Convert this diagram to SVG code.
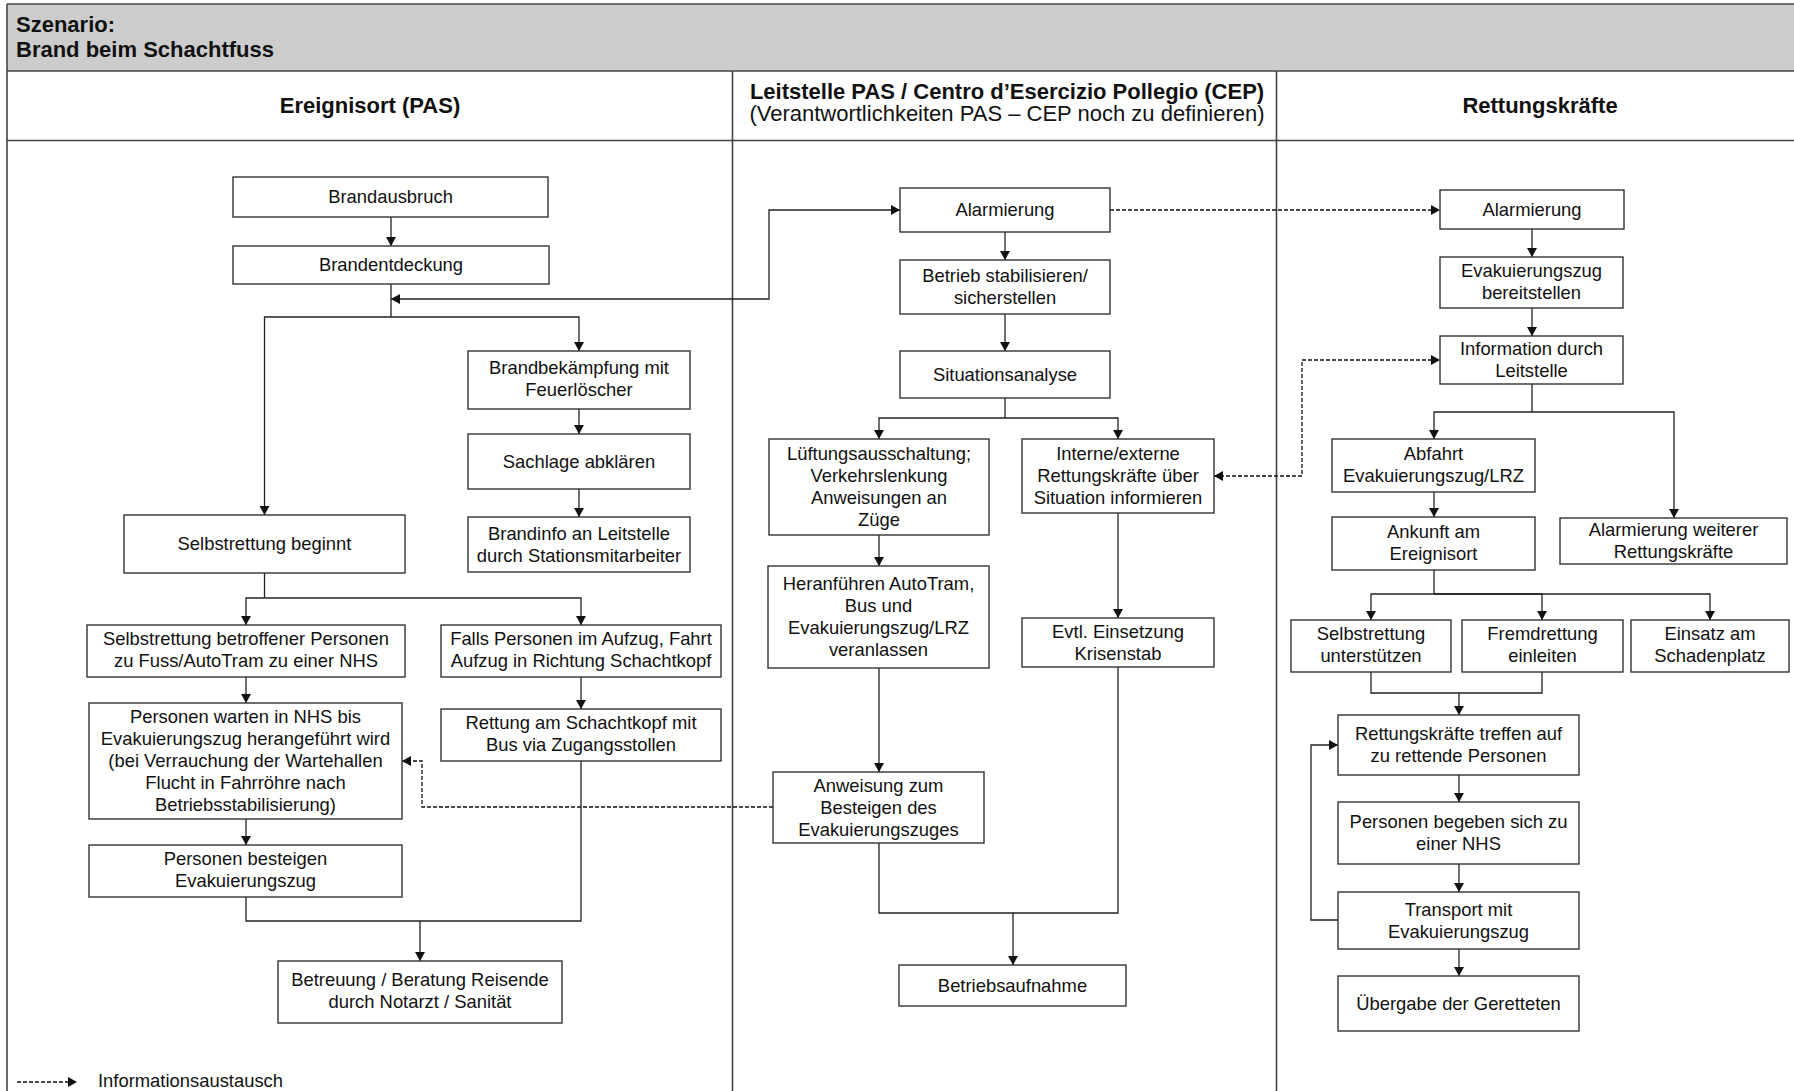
<svg xmlns="http://www.w3.org/2000/svg" width="1794" height="1091" viewBox="0 0 1794 1091">
  <style>
    .frame { fill: none; stroke: #444; stroke-width: 1.6; }
    .band { fill: #cccccc; stroke: none; }
    .box { fill: #ffffff; stroke: #333; stroke-width: 1.4; }
    .t { font-family: "Liberation Sans", Arial, Helvetica, sans-serif; font-size: 18.4px; fill: #111; text-anchor: middle; }
    .hb { font-family: "Liberation Sans", Arial, Helvetica, sans-serif; font-size: 22px; font-weight: bold; fill: #111; }
    .hr { font-family: "Liberation Sans", Arial, Helvetica, sans-serif; font-size: 22px; fill: #111; }
    .c { text-anchor: middle; }
    .ln { fill: none; stroke: #222; stroke-width: 1.3; }
    .arr { marker-end: url(#ah); }
    .dash { stroke-dasharray: 4 2; stroke: #111; }
    .both { marker-start: url(#ah); marker-end: url(#ah); }
  </style>
  <defs>
    <marker id="ah" viewBox="0 0 9 10" refX="9" refY="5" markerWidth="9" markerHeight="10" markerUnits="userSpaceOnUse" orient="auto-start-reverse">
      <path d="M0,0 L9,5 L0,10 z" fill="#111"/>
    </marker>
  </defs>

  <!-- page frame, title band and swimlanes -->
  <g id="frame">
    <rect class="band" x="7" y="4" width="1800" height="67"/>
    <path class="frame" d="M7,4 H1800 M7,4 V1091 M7,71 H1800 M7,140.5 H1800 M732.5,71 V1091 M1276.5,71 V1091"/>
    <text class="hb" x="16" y="31.5">Szenario:</text>
    <text class="hb" x="16" y="57">Brand beim Schachtfuss</text>
    <text class="hb c" x="370" y="113">Ereignisort (PAS)</text>
    <text class="hb c" x="1007" y="99">Leitstelle PAS / Centro d’Esercizio Pollegio (CEP)</text>
    <text class="hr c" x="1007" y="121">(Verantwortlichkeiten PAS – CEP noch zu definieren)</text>
    <text class="hb c" x="1540" y="113">Rettungskräfte</text>
  </g>

  <!-- connectors -->
  <g id="connectors">
    <!-- Ereignisort -->
    <path class="ln arr" d="M391,217 V246"/>
    <path class="ln" d="M391,284 V317"/>
    <path class="ln arr" d="M391,317 H264.5 V515"/>
    <path class="ln arr" d="M391,317 H579 V351"/>
    <path class="ln both" d="M391,299 H769 V210 H900"/>
    <path class="ln arr" d="M579,409 V434"/>
    <path class="ln arr" d="M579,489 V517"/>
    <path class="ln" d="M264.5,573 V598"/>
    <path class="ln arr" d="M264.5,598 H246 V625"/>
    <path class="ln arr" d="M264.5,598 H581 V625"/>
    <path class="ln arr" d="M246,677 V703"/>
    <path class="ln arr" d="M581,677 V709"/>
    <path class="ln arr" d="M246,819 V845"/>
    <path class="ln" d="M246,897 V921 H581 V761"/>
    <path class="ln arr" d="M420,921 V961"/>
    <!-- Leitstelle -->
    <path class="ln arr" d="M1005,232 V260"/>
    <path class="ln arr" d="M1005,314 V351"/>
    <path class="ln" d="M1005,398 V418"/>
    <path class="ln arr" d="M1005,418 H879 V439"/>
    <path class="ln arr" d="M1005,418 H1118 V439"/>
    <path class="ln arr" d="M879,535 V566"/>
    <path class="ln arr" d="M1118,513 V618"/>
    <path class="ln arr" d="M879,668 V772"/>
    <path class="ln" d="M879,843 V913 H1118 V667"/>
    <path class="ln arr" d="M1013,913 V965"/>
    <!-- information exchange (dashed) -->
    <path class="ln dash arr" d="M1110,210 H1440"/>
    <path class="ln dash both" d="M1214,476 H1302 V360 H1440"/>
    <path class="ln dash arr" d="M773,807 H422 V761 H402"/>
    <!-- Rettungskräfte -->
    <path class="ln arr" d="M1532,229 V257"/>
    <path class="ln arr" d="M1532,308 V336"/>
    <path class="ln" d="M1532,384 V412"/>
    <path class="ln arr" d="M1532,412 H1434 V439"/>
    <path class="ln arr" d="M1532,412 H1674 V518"/>
    <path class="ln arr" d="M1434,492 V517"/>
    <path class="ln" d="M1434,570 V594"/>
    <path class="ln arr" d="M1434,594 H1371 V620"/>
    <path class="ln arr" d="M1434,594 H1542 V620"/>
    <path class="ln arr" d="M1434,594 H1710 V620"/>
    <path class="ln" d="M1371,672 V693 H1542 V672"/>
    <path class="ln arr" d="M1459,693 V715"/>
    <path class="ln arr" d="M1459,775 V802"/>
    <path class="ln arr" d="M1459,864 V892"/>
    <path class="ln arr" d="M1459,949 V976"/>
    <path class="ln arr" d="M1338,920 H1311 V745 H1338"/>
    <!-- legend -->
    <path class="ln dash arr" d="M17,1082 H77"/>
  </g>
  <text class="t" x="98" y="1087" style="text-anchor:start">Informationsaustausch</text>

  <!-- Ereignisort (PAS) -->
  <g id="n_brandausbruch"><rect class="box" x="233" y="177" width="315" height="40"/><text class="t" x="390.5" y="203.4">Brandausbruch</text></g>
  <g id="n_brandentdeckung"><rect class="box" x="233" y="246" width="316" height="38"/><text class="t" x="391" y="271.4">Brandentdeckung</text></g>
  <g id="n_brandbekaempfung"><rect class="box" x="468" y="351" width="222" height="58"/><text class="t" x="579" y="374.4">Brandbekämpfung mit</text><text class="t" x="579" y="396.4">Feuerlöscher</text></g>
  <g id="n_sachlage"><rect class="box" x="468" y="434" width="222" height="55"/><text class="t" x="579" y="467.9">Sachlage abklären</text></g>
  <g id="n_brandinfo"><rect class="box" x="468" y="517" width="222" height="55"/><text class="t" x="579" y="539.9">Brandinfo an Leitstelle</text><text class="t" x="579" y="561.9">durch Stationsmitarbeiter</text></g>
  <g id="n_selbstrettung"><rect class="box" x="124" y="515" width="281" height="58"/><text class="t" x="264.5" y="550.4">Selbstrettung beginnt</text></g>
  <g id="n_selbstrettung_personen"><rect class="box" x="87" y="625" width="318" height="52"/><text class="t" x="246" y="645.4">Selbstrettung betroffener Personen</text><text class="t" x="246" y="667.4">zu Fuss/AutoTram zu einer NHS</text></g>
  <g id="n_aufzug"><rect class="box" x="441" y="625" width="280" height="52"/><text class="t" x="581" y="645.4">Falls Personen im Aufzug, Fahrt</text><text class="t" x="581" y="667.4">Aufzug in Richtung Schachtkopf</text></g>
  <g id="n_warten"><rect class="box" x="89" y="703" width="313" height="116"/>
    <text class="t" x="245.5" y="723.4">Personen warten in NHS bis</text>
    <text class="t" x="245.5" y="745.4">Evakuierungszug herangeführt wird</text>
    <text class="t" x="245.5" y="767.4">(bei Verrauchung der Wartehallen</text>
    <text class="t" x="245.5" y="789.4">Flucht in Fahrröhre nach</text>
    <text class="t" x="245.5" y="811.4">Betriebsstabilisierung)</text></g>
  <g id="n_schachtkopf"><rect class="box" x="441" y="709" width="280" height="52"/><text class="t" x="581" y="729.4">Rettung am Schachtkopf mit</text><text class="t" x="581" y="751.4">Bus via Zugangsstollen</text></g>
  <g id="n_besteigen"><rect class="box" x="89" y="845" width="313" height="52"/><text class="t" x="245.5" y="865.4">Personen besteigen</text><text class="t" x="245.5" y="887.4">Evakuierungszug</text></g>
  <g id="n_betreuung"><rect class="box" x="278" y="961" width="284" height="62"/><text class="t" x="420" y="986.4">Betreuung / Beratung Reisende</text><text class="t" x="420" y="1008.4">durch Notarzt / Sanität</text></g>

  <!-- Leitstelle PAS / CEP -->
  <g id="n_alarmierung_leitstelle"><rect class="box" x="900" y="188" width="210" height="44"/><text class="t" x="1005" y="216.4">Alarmierung</text></g>
  <g id="n_stabilisieren"><rect class="box" x="900" y="260" width="210" height="54"/><text class="t" x="1005" y="282.4">Betrieb stabilisieren/</text><text class="t" x="1005" y="304.4">sicherstellen</text></g>
  <g id="n_situationsanalyse"><rect class="box" x="900" y="351" width="210" height="47"/><text class="t" x="1005" y="380.9">Situationsanalyse</text></g>
  <g id="n_lueftung"><rect class="box" x="769" y="439" width="220" height="96"/>
    <text class="t" x="879" y="460.4">Lüftungsausschaltung;</text>
    <text class="t" x="879" y="482.4">Verkehrslenkung</text>
    <text class="t" x="879" y="504.4">Anweisungen an</text>
    <text class="t" x="879" y="526.4">Züge</text></g>
  <g id="n_informieren"><rect class="box" x="1022" y="439" width="192" height="74"/>
    <text class="t" x="1118" y="460.4">Interne/externe</text>
    <text class="t" x="1118" y="482.4">Rettungskräfte über</text>
    <text class="t" x="1118" y="504.4">Situation informieren</text></g>
  <g id="n_heranfuehren"><rect class="box" x="768" y="566" width="221" height="102"/>
    <text class="t" x="878.5" y="590.4">Heranführen AutoTram,</text>
    <text class="t" x="878.5" y="612.4">Bus und</text>
    <text class="t" x="878.5" y="634.4">Evakuierungszug/LRZ</text>
    <text class="t" x="878.5" y="656.4">veranlassen</text></g>
  <g id="n_krisenstab"><rect class="box" x="1022" y="618" width="192" height="49"/><text class="t" x="1118" y="637.9">Evtl. Einsetzung</text><text class="t" x="1118" y="659.9">Krisenstab</text></g>
  <g id="n_anweisung"><rect class="box" x="773" y="772" width="211" height="71"/>
    <text class="t" x="878.5" y="791.9">Anweisung zum</text>
    <text class="t" x="878.5" y="813.9">Besteigen des</text>
    <text class="t" x="878.5" y="835.9">Evakuierungszuges</text></g>
  <g id="n_betriebsaufnahme"><rect class="box" x="899" y="965" width="227" height="41"/><text class="t" x="1012.5" y="991.9">Betriebsaufnahme</text></g>

  <!-- Rettungskräfte -->
  <g id="n_alarmierung_rettung"><rect class="box" x="1440" y="190" width="184" height="39"/><text class="t" x="1532" y="215.9">Alarmierung</text></g>
  <g id="n_bereitstellen"><rect class="box" x="1440" y="257" width="183" height="51"/><text class="t" x="1531.5" y="276.9">Evakuierungszug</text><text class="t" x="1531.5" y="298.9">bereitstellen</text></g>
  <g id="n_information"><rect class="box" x="1440" y="336" width="183" height="48"/><text class="t" x="1531.5" y="355.4">Information durch</text><text class="t" x="1531.5" y="377.4">Leitstelle</text></g>
  <g id="n_abfahrt"><rect class="box" x="1332" y="439" width="203" height="53"/><text class="t" x="1433.5" y="459.9">Abfahrt</text><text class="t" x="1433.5" y="481.9">Evakuierungszug/LRZ</text></g>
  <g id="n_ankunft"><rect class="box" x="1332" y="517" width="203" height="53"/><text class="t" x="1433.5" y="537.9">Ankunft am</text><text class="t" x="1433.5" y="559.9">Ereignisort</text></g>
  <g id="n_weitere"><rect class="box" x="1560" y="518" width="227" height="46"/><text class="t" x="1673.5" y="536.4">Alarmierung weiterer</text><text class="t" x="1673.5" y="558.4">Rettungskräfte</text></g>
  <g id="n_unterstuetzen"><rect class="box" x="1291" y="620" width="160" height="52"/><text class="t" x="1371" y="640.4">Selbstrettung</text><text class="t" x="1371" y="662.4">unterstützen</text></g>
  <g id="n_fremdrettung"><rect class="box" x="1462" y="620" width="161" height="52"/><text class="t" x="1542.5" y="640.4">Fremdrettung</text><text class="t" x="1542.5" y="662.4">einleiten</text></g>
  <g id="n_einsatz"><rect class="box" x="1631" y="620" width="158" height="52"/><text class="t" x="1710" y="640.4">Einsatz am</text><text class="t" x="1710" y="662.4">Schadenplatz</text></g>
  <g id="n_treffen"><rect class="box" x="1338" y="715" width="241" height="60"/><text class="t" x="1458.5" y="740.4">Rettungskräfte treffen auf</text><text class="t" x="1458.5" y="762.4">zu rettende Personen</text></g>
  <g id="n_begeben"><rect class="box" x="1338" y="802" width="241" height="62"/><text class="t" x="1458.5" y="828.4">Personen begeben sich zu</text><text class="t" x="1458.5" y="850.4">einer NHS</text></g>
  <g id="n_transport"><rect class="box" x="1338" y="892" width="241" height="57"/><text class="t" x="1458.5" y="915.9">Transport mit</text><text class="t" x="1458.5" y="937.9">Evakuierungszug</text></g>
  <g id="n_uebergabe"><rect class="box" x="1338" y="976" width="241" height="55"/><text class="t" x="1458.5" y="1009.9">Übergabe der Geretteten</text></g>
</svg>
